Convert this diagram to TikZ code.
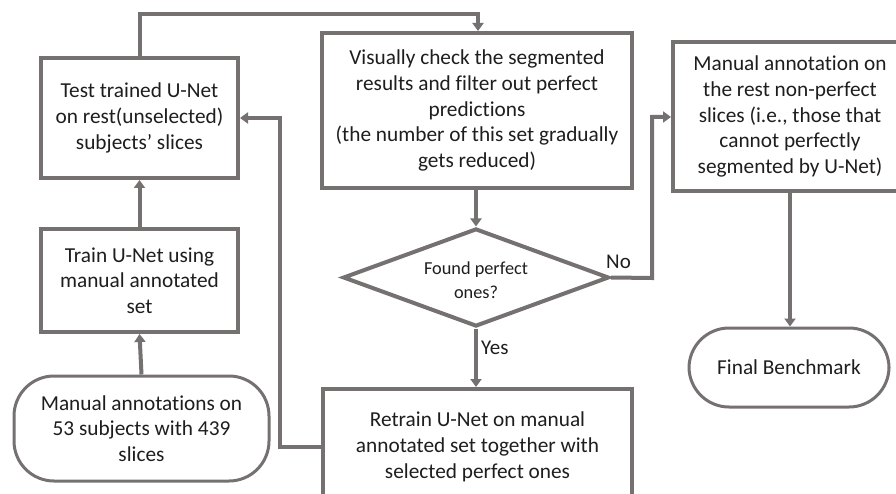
\documentclass[tikz,border=0pt]{standalone}
\usepackage{fontspec}
\setmainfont{Carlito}[Ligatures={NoCommon}]
\usetikzlibrary{shapes.geometric,arrows.meta}
\definecolor{lc}{RGB}{118,113,113}
\definecolor{tc}{RGB}{30,30,30}
\tikzset{
  box/.style={draw=lc, line width=4pt, fill=white, align=center, inner sep=0pt,
    font=\fontsize{21.3}{25.7}\selectfont, text=tc},
  term/.style={box, line width=3pt, rounded corners=40pt},
  dec/.style={draw=lc, line width=4pt, shape=diamond, inner sep=0pt},
  dectext/.style={align=center, inner sep=0pt, font=\fontsize{18.3}{24}\selectfont, text=tc},
  conn/.style={draw=lc, line width=4pt, -{Triangle[width=11pt,length=8pt]}},
  lbl/.style={font=\fontsize{21}{25}\selectfont, text=tc, inner sep=0pt}
}
\begin{document}
\begin{tikzpicture}[x=1pt,y=-1pt]
\useasboundingbox (0,0) rectangle (896,494);
\clip (0,0) rectangle (896,494);
\fill[white] (0,0) rectangle (896,494);

\node[box, minimum width=197pt, minimum height=120pt] (A) at (139.5,118)
  {Test trained U-Net\\on rest(unselected)\\subjects’ slices};
\node[box, minimum width=197pt, minimum height=103pt] (E) at (139.5,280.5)
  {Train U-Net using\\manual annotated\\set};
\node[term, minimum width=255pt, minimum height=105pt] (S) at (141.5,428.5)
  {Manual annotations on\\53 subjects with 439\\slices};
\node[box, minimum width=310pt, minimum height=155pt] (B) at (477,110.5)
  {Visually check the segmented\\results and filter out perfect\\predictions\\(the number of this set gradually\\gets reduced)};
\node[dec, minimum width=266pt, minimum height=98pt] (Q) at (476,277.5) {};
\node[dectext] (Qt) at (476,280) {Found perfect\\ones?};
\node[box, minimum width=309pt, minimum height=116pt] (D) at (477.5,447)
  {Retrain U-Net on manual\\annotated set together with\\selected perfect ones};
\node[box, minimum width=234pt, minimum height=149pt] (C) at (790,116.5)
  {Manual annotation on\\the rest non-perfect\\slices (i.e., those that\\cannot perfectly\\segmented by U-Net)};
\node[term, minimum width=200pt, minimum height=79pt] (F) at (789,367.5)
  {Final Benchmark};

\coordinate (t1) at (139.5,14);
\coordinate (t2) at (478,14);
\coordinate (n1) at (652,278);
\coordinate (n2) at (652,117);
\coordinate (r1) at (280,447);
\coordinate (r2) at (280,118);

\draw[conn] (S.north) -- (E.south);
\draw[conn] (E.north) -- (A.south);
\draw[conn] (A.north) -- (t1) -- (t2) -- (B.north -| t2);
\draw[conn] (B.south -| Q.north) -- (Q.north);
\draw[conn] (Q.south) -- (D.north -| Q.south);
\draw[conn] (Q.east) -- (n1) -- (n2) -- (C.west |- n2);
\draw[conn] (C.south) -- (F.north -| C.south);
\draw[conn] (D.west |- r1) -- (r1) -- (r2) -- (A.east |- r2);

\node[lbl, anchor=west] (yes) at (481,348) {Yes};
\node[lbl, anchor=west] (no) at (606,262) {No};
\end{tikzpicture}
\end{document}
